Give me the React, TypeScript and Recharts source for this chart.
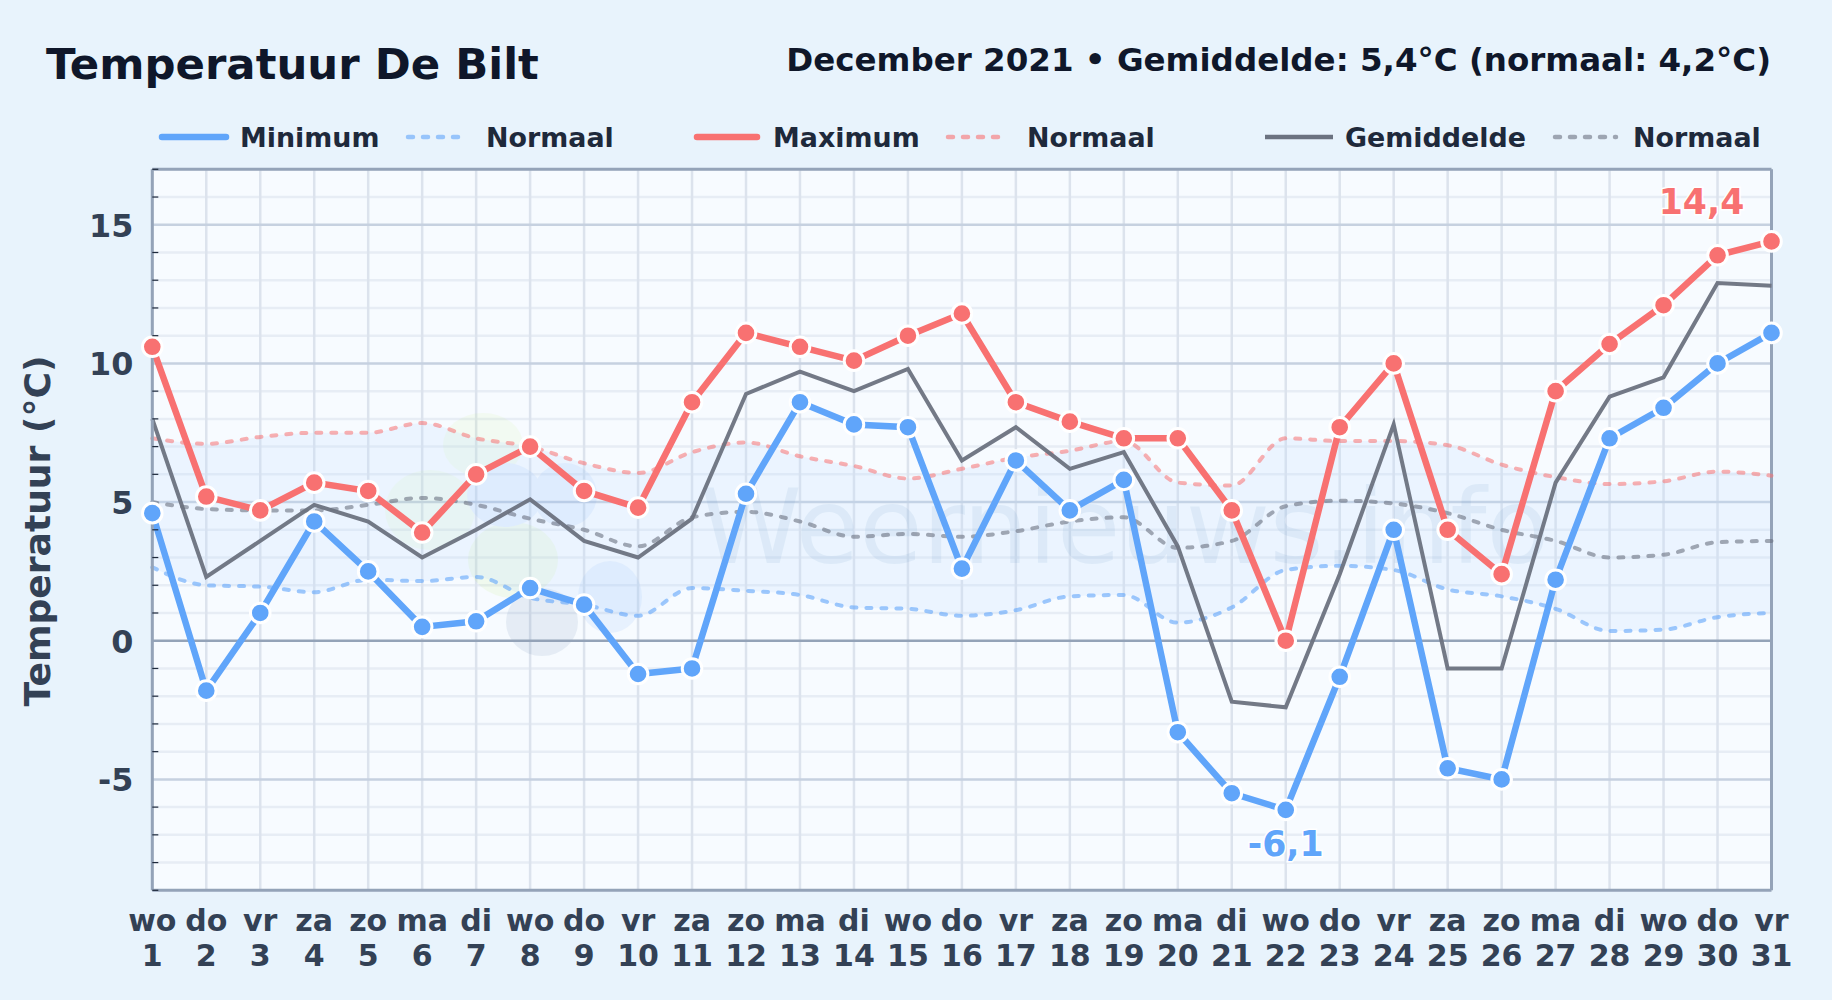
import React from 'react';
import {
    ComposedChart,
    Area,
    Line,
    XAxis,
    YAxis,
    CartesianGrid,
    ReferenceLine,
    LabelList,
} from 'recharts';

const weekdays = ['wo', 'do', 'vr', 'za', 'zo', 'ma', 'di', 'wo', 'do', 'vr', 'za', 'zo', 'ma', 'di', 'wo', 'do', 'vr', 'za', 'zo', 'ma', 'di', 'wo', 'do', 'vr', 'za', 'zo', 'ma', 'di', 'wo', 'do', 'vr'];
const days = [1, 2, 3, 4, 5, 6, 7, 8, 9, 10, 11, 12, 13, 14, 15, 16, 17, 18, 19, 20, 21, 22, 23, 24, 25, 26, 27, 28, 29, 30, 31];
const minimum = [4.6, -1.8, 1.0, 4.3, 2.5, 0.5, 0.7, 1.9, 1.3, -1.2, -1.0, 5.3, 8.6, 7.8, 7.7, 2.6, 6.5, 4.7, 5.8, -3.3, -5.5, -6.1, -1.3, 4.0, -4.6, -5.0, 2.2, 7.3, 8.4, 10.0, 11.1];
const maximum = [10.6, 5.2, 4.7, 5.7, 5.4, 3.9, 6.0, 7.0, 5.4, 4.8, 8.6, 11.1, 10.6, 10.1, 11.0, 11.8, 8.6, 7.9, 7.3, 7.3, 4.7, 0.0, 7.7, 10.0, 4.0, 2.4, 9.0, 10.7, 12.1, 13.9, 14.4];
const gemiddelde = [8.0, 2.3, 3.6, 4.9, 4.3, 3.0, 4.0, 5.1, 3.6, 3.0, 4.4, 8.9, 9.7, 9.0, 9.8, 6.5, 7.7, 6.2, 6.8, 3.4, -2.2, -2.4, 2.4, 7.8, -1.0, -1.0, 5.7, 8.8, 9.5, 12.9, 12.8];
const normaalMin = [2.65, 2.0, 1.95, 1.75, 2.2, 2.15, 2.3, 1.55, 1.3, 0.9, 1.9, 1.8, 1.65, 1.2, 1.15, 0.9, 1.1, 1.6, 1.65, 0.65, 1.2, 2.55, 2.7, 2.55, 1.85, 1.6, 1.15, 0.35, 0.4, 0.85, 1.0];
const normaalMax = [7.3, 7.1, 7.35, 7.5, 7.5, 7.85, 7.3, 7.0, 6.4, 6.05, 6.8, 7.15, 6.65, 6.3, 5.85, 6.2, 6.6, 6.85, 7.2, 5.7, 5.6, 7.3, 7.2, 7.2, 7.05, 6.35, 5.9, 5.65, 5.75, 6.1, 5.95];
const normaalGem = [5.0, 4.75, 4.7, 4.7, 4.9, 5.15, 4.9, 4.4, 4.0, 3.4, 4.45, 4.65, 4.3, 3.75, 3.85, 3.75, 3.95, 4.3, 4.45, 3.35, 3.6, 4.85, 5.05, 4.95, 4.6, 4.0, 3.6, 3.0, 3.1, 3.55, 3.6];

const yTicks = [-9, -8, -7, -6, -5, -4, -3, -2, -1, 0, 1, 2, 3, 4, 5, 6, 7, 8, 9, 10, 11, 12, 13, 14, 15, 16, 17];
const minorLines = yTicks.filter((t) => t % 5 !== 0);
const majorLines = [-5, 5, 10, 15];

const data = days.map((day, i) => ({
    day,
    weekday: weekdays[i],
    min: minimum[i],
    max: maximum[i],
    gem: gemiddelde[i],
    nMin: normaalMin[i],
    nMax: normaalMax[i],
    nGem: normaalGem[i],
    band: [normaalMin[i], normaalMax[i]],
}));

const FONT = '"DejaVu Sans", sans-serif';
const BLUE = '#60a5fa';
const RED = '#f87171';
const SLATE = '#6b7280';
const DASH = '5 10';

const LEGEND = [
    { label: 'Minimum', color: BLUE, x1: 162, x2: 226, tx: 240, width: 6.5 },
    { label: 'Normaal', color: BLUE, x1: 408, x2: 462, tx: 486, width: 4.5, dash: true },
    { label: 'Maximum', color: RED, x1: 697, x2: 757, tx: 773, width: 6.5 },
    { label: 'Normaal', color: RED, x1: 948, x2: 1002, tx: 1027, width: 4.5, dash: true },
    { label: 'Gemiddelde', color: SLATE, x1: 1265, x2: 1333, tx: 1345, width: 4.3 },
    { label: 'Normaal', color: SLATE, x1: 1555, x2: 1616, tx: 1633, width: 4.5, dash: true },
];

const XTick = ({ x, y, payload, index }: any) => (
    <text x={x} textAnchor="middle" fontFamily={FONT} fontWeight={700} fontSize={30} fill="#334155">
        <tspan x={x} y={y + 33}>{weekdays[index]}</tspan>
        <tspan x={x} y={y + 68}>{payload.value}</tspan>
    </text>
);

const YTick = ({ x, y, payload }: any) => {
    const v = payload.value;
    if (v % 5 !== 0) {
        return <line x1={x + 8} x2={x + 14} y1={y} y2={y} stroke="#1e293b" strokeWidth={1.2} />;
    }
    return (
        <text x={x - 11} y={y + 12} textAnchor="end" fontFamily={FONT} fontWeight={700} fontSize={31.8} fill="#334155">
            {v}
        </text>
    );
};

const extremeLabel = (day: number, dx: number, dy: number, color: string) => (props: any) => {
    if (days[props.index] !== day) return null;
    return (
        <text
            x={props.x + dx}
            y={props.y + dy}
            textAnchor="middle"
            fontFamily={FONT}
            fontWeight={700}
            fontSize={34.7}
            fill={color}
            stroke="#ffffff"
            strokeWidth={3}
            paintOrder="stroke"
        >
            {String(props.value).replace('.', ',')}
        </text>
    );
};

const dot = (color: string) => ({ r: 9.8, fill: color, stroke: '#ffffff', strokeWidth: 3 });

export default function App() {
    return (
        <div style={{ position: 'absolute', left: 0, top: 0, width: 1832, height: 1000, background: '#e8f3fc', overflow: 'hidden' }}>
            <ComposedChart
                width={1832}
                height={1000}
                data={data}
                margin={{ top: 169.3, right: 60.5, bottom: 0, left: 0 }}
            >
                <CartesianGrid fill="#f7fbff" stroke="#e7edf5" strokeWidth={2.5} vertical={false} horizontalValues={minorLines} />
                <CartesianGrid stroke="#dce3ed" strokeWidth={2.5} horizontal={false} />
                <CartesianGrid stroke="#c6d1e0" strokeWidth={2.5} vertical={false} horizontalValues={majorLines} />

                {/* watermark */}
                <g opacity={0.08}>
                    <ellipse cx={483} cy={445} rx={40} ry={32} fill="#bef264" />
                    <ellipse cx={430} cy={510} rx={45} ry={40} fill="#bef264" />
                    <ellipse cx={513} cy={560} rx={45} ry={38} fill="#a3e635" />
                    <ellipse cx={505} cy={495} rx={38} ry={32} fill="#3b82f6" />
                    <ellipse cx={565} cy={495} rx={32} ry={32} fill="#3b82f6" />
                    <ellipse cx={610} cy={597} rx={32} ry={36} fill="#3b82f6" />
                    <ellipse cx={542} cy={622} rx={36} ry={34} fill="#1d4e89" />
                </g>
                <text x={700} y={563} fontFamily={FONT} fontSize={103} fill="#2f6fb0" opacity={0.09}>
                    Weernieuws.info
                </text>

                <XAxis
                    dataKey="day"
                    scale="point"
                    interval={0}
                    height={109.7}
                    tick={<XTick />}
                    tickLine={false}
                    axisLine={{ stroke: '#94a3b8', strokeWidth: 3 }}
                />
                <YAxis
                    width={152.3}
                    domain={[-9, 17]}
                    ticks={yTicks}
                    interval={0}
                    tick={<YTick />}
                    tickLine={false}
                    axisLine={{ stroke: '#94a3b8', strokeWidth: 3 }}
                />

                <ReferenceLine y={17} stroke="#94a3b8" strokeWidth={3} />
                <ReferenceLine x={31} stroke="#94a3b8" strokeWidth={3} />
                <ReferenceLine y={0} stroke="#94a3b8" strokeWidth={2.5} />

                <Area type="monotone" dataKey="band" stroke="none" fill="#bfdbfe" fillOpacity={0.2} isAnimationActive={false} />
                <Line type="monotone" dataKey="nMin" stroke={BLUE} strokeOpacity={0.6} strokeWidth={4} strokeDasharray={DASH} strokeLinecap="round" dot={false} isAnimationActive={false} />
                <Line type="monotone" dataKey="nMax" stroke={RED} strokeOpacity={0.55} strokeWidth={4} strokeDasharray={DASH} strokeLinecap="round" dot={false} isAnimationActive={false} />
                <Line type="monotone" dataKey="nGem" stroke={SLATE} strokeOpacity={0.6} strokeWidth={4} strokeDasharray={DASH} strokeLinecap="round" dot={false} isAnimationActive={false} />
                <Line type="linear" dataKey="gem" stroke={SLATE} strokeOpacity={0.95} strokeWidth={4} dot={false} isAnimationActive={false} />
                <Line type="linear" dataKey="min" stroke={BLUE} strokeWidth={6.5} dot={dot(BLUE)} isAnimationActive={false}>
                    <LabelList dataKey="min" content={extremeLabel(22, 0, 46, BLUE)} />
                </Line>
                <Line type="linear" dataKey="max" stroke={RED} strokeWidth={6.5} dot={dot(RED)} isAnimationActive={false}>
                    <LabelList dataKey="max" content={extremeLabel(31, -70, -27, RED)} />
                </Line>

                {/* titel, legenda */}
                <text x={46} y={79} fontFamily={FONT} fontWeight={700} fontSize={43.4} fill="#0f172a">Temperatuur De Bilt</text>
                <text x={1771} y={71} textAnchor="end" fontFamily={FONT} fontWeight={700} fontSize={32.5} fill="#0f172a">
                    December 2021 • Gemiddelde: 5,4°C (normaal: 4,2°C)
                </text>
                <text
                    transform="translate(50,531) rotate(-90)"
                    textAnchor="middle"
                    fontFamily={FONT}
                    fontWeight={700}
                    fontSize={36.1}
                    fill="#334155"
                >
                    Temperatuur (°C)
                </text>
                {LEGEND.map((item, i) => (
                    <g key={i}>
                        <line
                            x1={item.x1}
                            x2={item.x2}
                            y1={137}
                            y2={137}
                            stroke={item.color}
                            strokeOpacity={item.dash ? 0.6 : 1}
                            strokeWidth={item.width}
                            strokeLinecap={item.label === 'Gemiddelde' ? 'butt' : 'round'}
                            strokeDasharray={item.dash ? DASH : undefined}
                        />
                        <text x={item.tx} y={146.5} fontFamily={FONT} fontWeight={700} fontSize={26.9} fill="#1e293b">
                            {item.label}
                        </text>
                    </g>
                ))}
            </ComposedChart>
        </div>
    );
}
